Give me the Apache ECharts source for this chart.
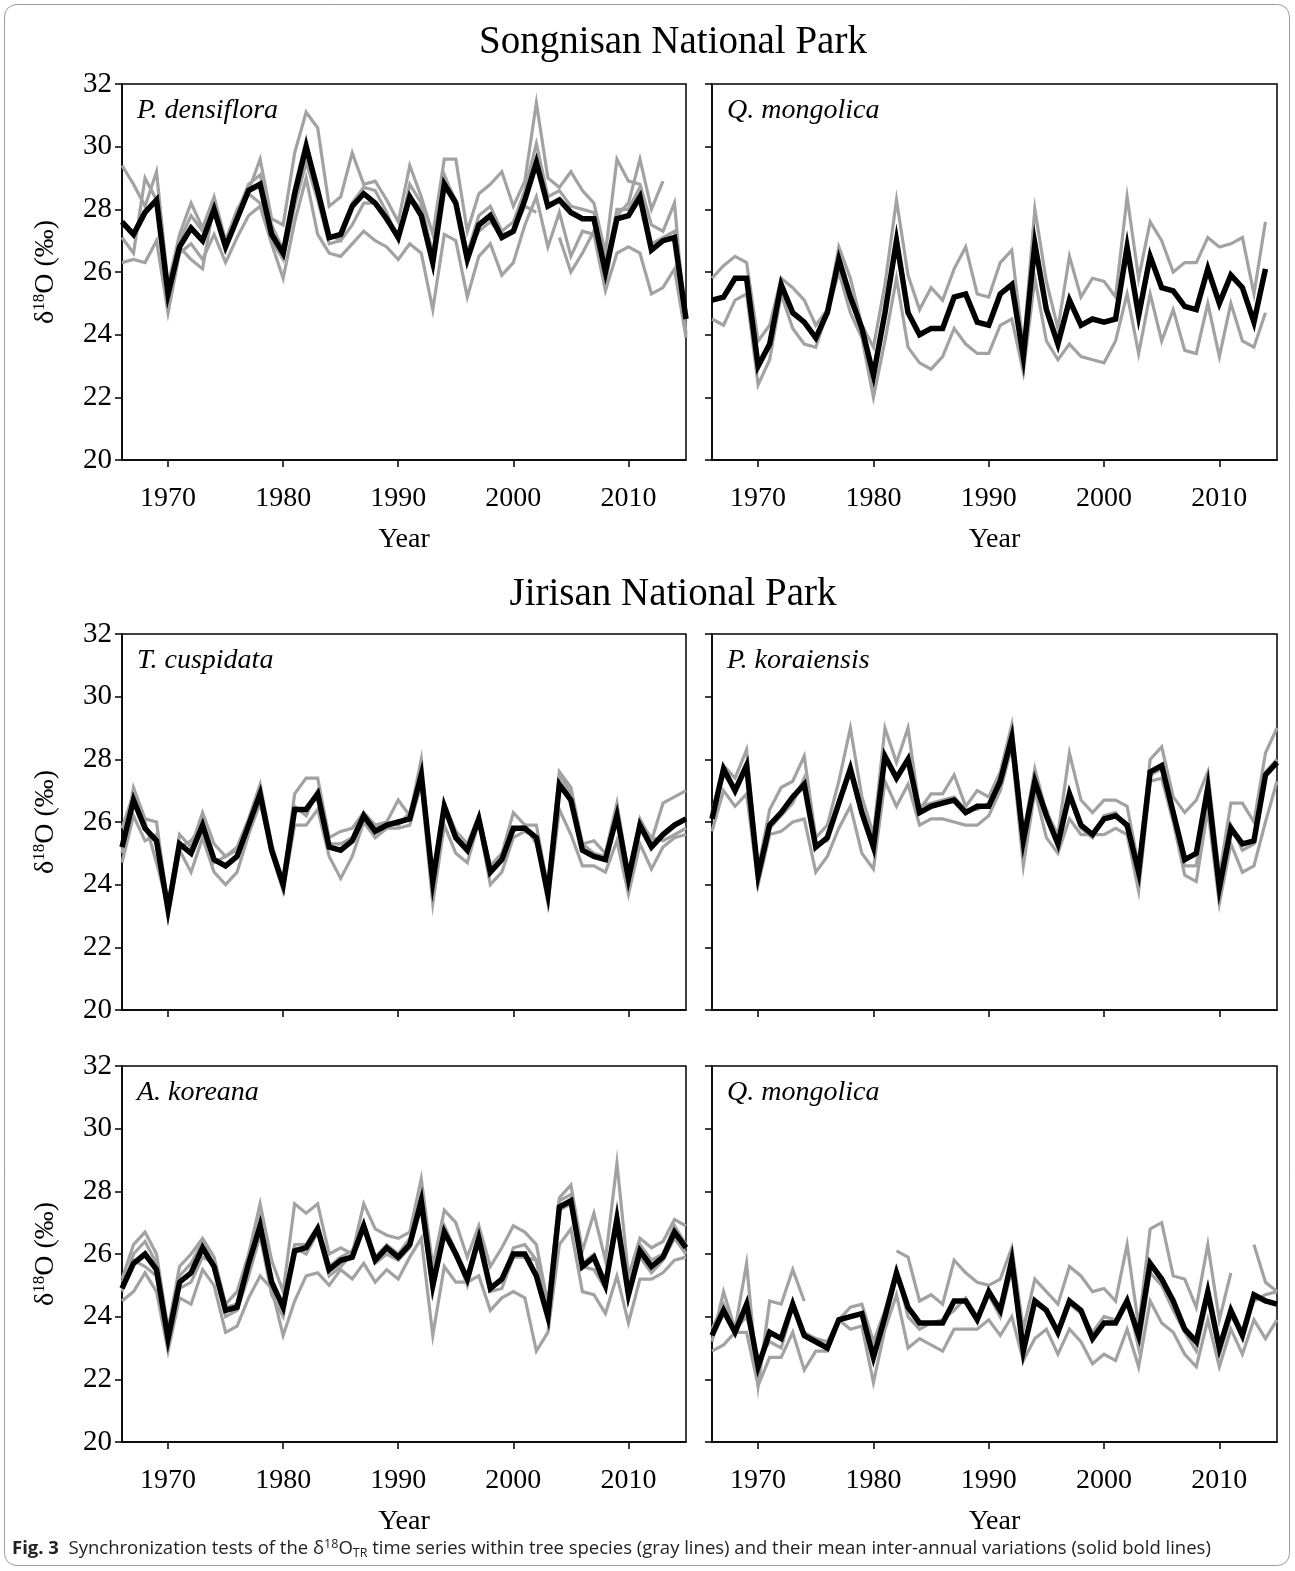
<!DOCTYPE html>
<html><head><meta charset="utf-8">
<script src="https://cdn.jsdelivr.net/npm/echarts@6/dist/echarts.min.js"></script>
<style>html,body{margin:0;padding:0;background:#fff}#c{width:1295px;height:1571px}</style>
</head><body><div id="c"></div>
<script>
// ---------- DATA ----------
const years = [1966,1967,1968,1969,1970,1971,1972,1973,1974,1975,1976,1977,1978,1979,1980,1981,1982,1983,1984,1985,1986,1987,1988,1989,1990,1991,1992,1993,1994,1995,1996,1997,1998,1999,2000,2001,2002,2003,2004,2005,2006,2007,2008,2009,2010,2011,2012,2013,2014,2015];
const xTickYears = [1970,1980,1990,2000,2010];
const yTicks = [20,22,24,26,28,30,32];

// Songnisan - P. densiflora
const tlMean = [27.6,27.2,27.9,28.3,25.3,26.8,27.4,27.0,28.0,26.8, 27.7,28.6,28.8,27.2,26.6,28.5,30.0,28.6,27.1,27.2, 28.1,28.5,28.2,27.7,27.1,28.4,27.8,26.3,28.8,28.2, 26.4,27.5,27.8,27.1,27.3,28.3,29.5,28.1,28.3,27.9, 27.7,27.7,26.0,27.7,27.8,28.4,26.7,27.0,27.1,24.5];
const tlG1 = [29.4,28.8,28.1,29.2,25.6,27.2,28.2,27.4,28.4,27.0, 28.0,28.6,29.6,27.7,27.5,29.8,31.1,30.6,28.1,28.4, 29.8,28.8,28.9,28.3,27.6,29.4,28.4,27.2,29.6,29.6, 27.3,28.5,28.8,29.2,28.1,28.9,31.4,29.0,28.7,29.2, 28.6,28.2,26.6,29.6,28.9,28.8,27.5,27.3,28.2,24.0];
const tlG2 = [26.3,26.4,26.3,27.0,24.7,26.6,26.9,26.4,27.2,26.3, 27.1,27.8,28.1,26.9,25.8,27.6,29.0,27.2,26.6,26.5, 26.9,27.3,27.0,26.8,26.4,26.9,26.6,24.8,27.2,27.0, 25.2,26.5,26.9,25.9,26.3,27.5,28.4,26.8,27.9,26.5, 27.3,27.2,25.4,26.6,26.8,26.6,25.3,25.5,26.1,23.9];
const tlG3 = [27.1,26.6,29.0,28.3,25.2,27.0,27.8,27.3,28.3,26.9, 27.9,28.8,29.1,27.5,26.7,28.7,30.2,28.4,27.2,27.0, 28.2,28.7,28.6,27.9,27.0,28.8,28.2,26.5,29.0,28.3, 26.6,27.8,28.1,27.3,27.6,28.6,30.1,28.4,28.6,28.1, 28.0,27.9,26.2,28.0,28.0,28.7,26.9,27.1,27.3,24.6];
const tlG4Start = 1971;
const tlG4 = [26.8,26.4,26.1,28.2,26.9, 27.8,28.5,28.2,27.0,26.4,28.1,29.5,28.3,26.9,27.0, 27.5,28.2,28.2,27.6,27.2,28.4,28.0,26.6,29.1,28.2, 26.6,27.3,27.6,27.2,27.3,28.1,27.9];
const tlG5Start = 2004;
const tlG5 = [27.1,26.0,26.6,27.3,25.6,27.8,28.2,29.6,28.0,28.9];

// Songnisan - Q. mongolica (1966-2014)
const trMean = [25.1,25.2,25.8,25.8,23.0,23.7,25.6,24.7,24.4,23.9, 24.7,26.4,25.2,24.2,22.7,24.7,27.0,24.7,24.0,24.2, 24.2,25.2,25.3,24.4,24.3,25.3,25.6,23.3,26.9,24.8, 23.7,25.1,24.3,24.5,24.4,24.5,26.8,24.6,26.5,25.5, 25.4,24.9,24.8,26.1,25.0,25.9,25.5,24.4,26.1];
const trG1 = [25.8,26.2,26.5,26.3,23.8,24.3,25.8,25.5,25.1,24.3, 24.8,26.8,25.8,24.3,23.6,25.6,28.3,25.9,24.8,25.5, 25.1,26.1,26.8,25.3,25.2,26.3,26.7,23.6,28.0,25.7, 24.2,26.5,25.2,25.8,25.7,25.2,28.4,25.8,27.6,27.0, 26.0,26.3,26.3,27.1,26.8,26.9,27.1,25.3,27.6];
const trG2 = [24.5,24.3,25.1,25.3,22.4,23.2,25.3,24.2,23.7,23.6, 24.7,26.0,24.7,23.9,22.0,23.8,25.8,23.6,23.1,22.9, 23.3,24.2,23.7,23.4,23.4,24.3,24.5,22.8,25.8,23.8, 23.2,23.7,23.3,23.2,23.1,23.8,25.3,23.4,25.3,23.8, 24.8,23.5,23.4,25.0,23.3,25.0,23.8,23.6,24.7];

// Jirisan - T. cuspidata
const mlMean = [25.2,26.7,25.8,25.4,23.2,25.3,25.0,25.9,24.8,24.6, 24.9,25.9,26.9,25.1,24.0,26.4,26.4,26.9,25.2,25.1, 25.4,26.2,25.7,25.9,26.0,26.1,27.5,24.1,26.5,25.5, 25.1,26.1,24.4,24.8,25.8,25.8,25.5,23.7,27.2,26.7, 25.1,24.9,24.8,26.2,24.2,25.9,25.2,25.6,25.9,26.1];
const mlG1 = [25.0,27.1,26.1,26.0,23.3,25.6,25.2,26.3,25.3,24.9, 25.2,26.1,27.2,25.3,24.1,26.9,27.4,27.4,25.5,25.7, 25.8,26.3,25.9,26.0,26.7,26.2,28.0,24.1,26.5,25.7, 25.3,26.1,24.6,25.0,26.3,25.9,25.9,23.9,27.6,27.1, 25.3,25.4,25.0,26.6,24.3,26.1,25.4,26.6,26.8,27.0];
const mlG2 = [24.7,26.2,25.4,25.6,23.0,25.1,24.4,25.5,24.4,24.0, 24.4,25.6,26.6,25.0,23.8,25.9,25.9,26.4,24.9,24.2, 24.9,26.0,25.5,25.8,25.8,25.9,27.2,23.4,25.9,25.0, 24.7,26.0,24.0,24.4,25.5,25.7,25.5,23.4,26.4,25.6, 24.6,24.6,24.4,25.4,23.7,25.3,24.5,25.2,25.5,25.6];
const mlG3 = [25.8,26.9,26.0,24.7,23.3,25.2,25.4,25.9,24.7,24.9, 25.1,26.0,27.0,25.0,24.1,26.5,26.2,27.0,25.3,25.3, 25.5,26.3,25.8,26.0,25.9,26.3,27.6,24.3,26.6,25.7, 25.3,26.2,24.6,24.9,25.7,25.9,25.3,23.8,27.5,26.9, 25.3,25.0,24.9,26.4,24.4,26.0,25.5,25.4,25.6,25.8];

// Jirisan - P. koraiensis
const mrMean = [26.1,27.7,27.0,27.8,24.3,25.9,26.3,26.8,27.2,25.2, 25.5,26.6,27.7,26.3,25.2,28.1,27.4,28.0,26.3,26.5, 26.6,26.7,26.3,26.5,26.5,27.3,28.7,25.4,27.3,26.2, 25.3,26.9,25.9,25.6,26.1,26.2,25.9,24.4,27.6,27.8, 26.3,24.8,25.0,27.1,23.9,25.8,25.3,25.4,27.5,27.9];
const mrG1 = [26.3,27.8,27.4,28.3,24.5,26.4,27.1,27.3,28.1,25.5, 25.9,27.3,29.0,26.8,25.6,29.0,27.9,29.0,26.4,26.9, 26.9,27.5,26.5,27.0,26.8,27.6,29.1,25.6,27.7,26.3, 25.6,28.2,26.7,26.3,26.7,26.7,26.5,24.6,28.0,28.4, 26.8,26.3,26.7,27.6,24.3,26.6,26.6,26.0,28.2,29.0];
const mrG2 = [25.7,27.0,26.5,26.9,24.0,25.6,25.7,26.0,26.1,24.4, 24.9,25.8,26.5,25.0,24.5,27.3,26.5,27.2,25.9,26.1, 26.1,26.0,25.9,25.9,26.2,27.0,28.4,24.6,27.0,25.5, 25.0,26.1,25.6,25.6,25.6,25.8,25.6,23.8,27.3,27.4, 26.0,24.3,24.1,26.4,23.4,25.3,24.4,24.6,26.0,27.3];
const mrG3 = [26.2,27.5,27.1,27.9,24.4,25.8,26.2,26.6,27.4,25.3, 25.4,26.7,27.6,26.2,25.1,28.0,27.5,27.9,26.5,26.6, 26.7,26.8,26.4,26.4,26.6,27.4,28.6,25.6,27.2,26.4, 25.4,26.8,25.8,25.5,26.2,26.3,25.8,24.5,27.5,27.7, 26.4,24.6,24.6,27.3,23.8,25.9,25.1,25.3,27.6,28.0];

// Jirisan - A. koreana
const blMean = [24.9,25.7,26.0,25.5,23.3,25.1,25.4,26.2,25.6,24.2, 24.3,25.7,26.9,25.1,24.3,26.1,26.2,26.8,25.5,25.8, 25.9,26.9,25.8,26.2,25.9,26.3,27.7,25.0,26.7,26.0, 25.2,26.5,24.9,25.2,26.0,26.0,25.3,24.0,27.5,27.7, 25.6,25.9,25.0,27.1,24.7,26.1,25.6,25.9,26.7,26.2];
const blG1 = [25.2,26.3,26.7,26.0,23.6,25.6,26.0,26.5,25.9,24.4, 24.8,26.0,27.6,25.8,24.8,27.6,27.3,27.6,26.0,26.2, 26.0,27.6,26.8,26.6,26.5,26.7,28.4,25.6,27.4,27.0, 25.9,26.9,25.6,26.2,26.9,26.7,26.3,24.4,27.8,28.2, 26.1,27.3,25.8,28.9,25.3,26.5,26.2,26.4,27.1,26.9];
const blG2 = [24.5,24.8,25.4,24.8,22.9,24.6,24.4,25.5,25.0,23.5, 23.7,24.6,25.3,24.9,23.4,24.5,25.3,25.4,25.0,25.5, 25.2,25.7,25.1,25.5,25.2,25.9,26.5,23.4,25.6,25.1, 25.1,25.3,24.2,24.6,24.8,24.6,22.9,23.5,26.3,26.8, 24.8,24.7,24.1,25.3,23.8,25.2,25.2,25.4,25.8,25.9];
const blG3 = [24.8,26.0,26.4,25.7,23.2,25.3,25.7,26.4,25.6,24.3, 24.4,25.9,27.2,25.2,24.3,26.3,26.3,26.9,25.6,25.9, 26.1,27.0,25.9,26.3,26.0,26.5,27.9,25.2,26.9,26.1, 25.3,26.7,25.0,25.1,26.2,26.3,25.8,24.3,27.7,27.9, 25.7,26.0,25.1,27.4,24.6,26.3,25.8,26.0,26.9,26.3];
const blG4 = [25.1,25.8,25.6,25.3,23.4,24.9,25.1,25.9,25.7,24.0, 24.2,25.3,26.6,24.7,24.0,26.2,26.0,26.7,25.3,25.6, 26.0,26.8,25.7,26.0,25.8,26.2,27.5,24.8,26.6,26.0, 25.0,26.5,24.8,24.9,25.9,25.9,25.8,23.9,27.4,27.6, 25.6,25.5,24.9,27.0,24.6,25.9,25.4,25.8,26.5,26.0];

// Jirisan - Q. mongolica
const brMean = [23.4,24.2,23.5,24.4,22.4,23.5,23.3,24.4,23.4,23.2, 23.0,23.9,24.0,24.1,22.7,24.0,25.4,24.3,23.8,23.8, 23.8,24.5,24.5,23.9,24.8,24.2,25.8,22.9,24.5,24.2, 23.5,24.5,24.2,23.3,23.8,23.8,24.5,23.4,25.7,25.2, 24.5,23.6,23.2,24.8,23.0,24.2,23.4,24.7,24.5,24.4];
const brG1Start = 1966;
const brG1 = [23.2,24.8,23.6,25.7,21.8,24.5,24.4,25.5,24.5];
const brG2Start = 1982;
const brG2 = [26.1,25.9,24.5,24.7,24.4,25.8,25.4,25.1,25.0,25.2, 26.2,23.6,25.2,24.8,24.4,25.6,25.3,24.8,24.9,24.5, 26.3,23.7,26.8,27.0,25.3,25.2,24.3,26.3,23.9,25.4];
const brG3 = [22.9,23.1,23.5,23.5,21.8,22.7,22.7,23.5,22.3,22.9, 22.9,23.9,23.6,23.7,21.9,23.6,24.7,23.0,23.3,23.1, 22.9,23.6,23.6,23.6,23.9,23.4,24.0,22.6,23.3,23.6, 22.8,23.6,23.2,22.5,22.8,22.6,23.6,22.4,24.5,23.8, 23.5,22.8,22.4,23.9,22.4,23.6,22.8,23.9,23.3,23.9];
const brG4 = [23.6,24.4,23.6,24.0,22.6,23.2,23.0,24.3,23.5,23.3, 23.2,23.9,24.3,24.4,23.2,24.2,25.5,24.0,23.6,23.8, 23.9,24.2,24.6,24.0,24.7,24.0,25.5,22.8,24.4,24.2, 23.4,24.4,24.1,23.5,24.0,23.9,24.6,23.0,25.4,25.0, 24.2,23.5,22.9,24.6,22.8,24.0,23.5,24.5,24.7,24.8];
const brG5Start = 2013;
const brG5 = [26.3,25.1,24.8];

// ---------- BUILD ----------
function pairs(vals, start) {
  const s = start || years[0];
  return vals.map((v, i) => [s + i, v == null ? '-' : v]);
}
const SERIF = '"Liberation Serif", "Times New Roman", serif';
const SANS = '"Open Sans", "Noto Sans", sans-serif';
const panels = [
  {g:{left:122, top:84, width:564, height:376}, label:'P. densiflora', mean:tlMean,
   grays:[[tlG1],[tlG2],[tlG3],[tlG4,tlG4Start],[tlG5,tlG5Start]], yl:true, xl:true},
  {g:{left:712, top:84, width:565, height:376}, label:'Q. mongolica', mean:trMean,
   grays:[[trG1],[trG2]], yl:false, xl:true},
  {g:{left:122, top:634, width:564, height:376}, label:'T. cuspidata', mean:mlMean,
   grays:[[mlG1],[mlG2],[mlG3]], yl:true, xl:false},
  {g:{left:712, top:634, width:565, height:376}, label:'P. koraiensis', mean:mrMean,
   grays:[[mrG1],[mrG2],[mrG3]], yl:false, xl:false},
  {g:{left:122, top:1066, width:564, height:376}, label:'A. koreana', mean:blMean,
   grays:[[blG1],[blG2],[blG3],[blG4]], yl:true, xl:true},
  {g:{left:712, top:1066, width:565, height:376}, label:'Q. mongolica', mean:brMean,
   grays:[[brG1,brG1Start],[brG2,brG2Start],[brG3],[brG4],[brG5,brG5Start]], yl:false, xl:true}
];

const grid = [], xAxis = [], yAxis = [], series = [], graphic = [];
panels.forEach((p, i) => {
  grid.push(Object.assign({show:true, borderColor:'#000', borderWidth:1.5, backgroundColor:'transparent'}, p.g));
  xAxis.push({
    type:'value', gridIndex:i, min:years[0], max:years[years.length-1],
    axisLine:{show:true, lineStyle:{color:'#000', width:1.5}},
    axisTick:{show:true, inside:false, length:7, customValues:xTickYears, lineStyle:{color:'#000', width:1.5}},
    axisLabel:{show:p.xl, customValues:xTickYears, formatter:v => String(v), color:'#000', fontFamily:SERIF, fontSize:28, margin:25},
    splitLine:{show:false},
    name: p.xl ? 'Year' : '', nameLocation:'middle', nameGap:66,
    nameTextStyle:{color:'#000', fontFamily:SERIF, fontSize:28}
  });
  yAxis.push({
    type:'value', gridIndex:i, min:20, max:32, interval:2,
    axisLine:{show:true, lineStyle:{color:'#000', width:1.5}},
    axisTick:{show:true, inside:false, length:7, lineStyle:{color:'#000', width:1.5}},
    axisLabel:{show:p.yl, color:'#000', fontFamily:SERIF, fontSize:29, margin:10},
    splitLine:{show:false},
    name: p.yl ? '{d|δ}{s|18}{d|O (‰)}' : '', nameLocation:'middle', nameGap:62, nameRotate:90,
    nameTextStyle:{color:'#000', fontFamily:SERIF, fontSize:28,
      rich:{d:{fontFamily:SERIF, fontSize:28, color:'#000'},
            s:{fontFamily:SERIF, fontSize:17, color:'#000', verticalAlign:'bottom', padding:[0,0,12,0]}}}
  });
  p.grays.forEach(gArr => {
    series.push({type:'line', xAxisIndex:i, yAxisIndex:i, data:pairs(gArr[0], gArr[1]),
      showSymbol:false, symbol:'none', connectNulls:false, silent:true, z:2,
      lineStyle:{color:'#a2a2a2', width:3.2, join:'miter'}});
  });
  series.push({type:'line', xAxisIndex:i, yAxisIndex:i, data:pairs(p.mean),
    showSymbol:false, symbol:'none', silent:true, z:3,
    lineStyle:{color:'#000', width:5.5, join:'miter'}});
  graphic.push({type:'text', x:p.g.left + 15, y:p.g.top + 27, z:10,
    style:{text:p.label, fontFamily:SERIF, fontStyle:'italic', fontSize:28, fill:'#000', verticalAlign:'middle'}});
});

graphic.push({type:'text', x:673, y:43, style:{text:'Songnisan National Park', fontFamily:SERIF, fontSize:39, fill:'#000', align:'center', verticalAlign:'middle'}});
graphic.push({type:'text', x:673, y:595, style:{text:'Jirisan National Park', fontFamily:SERIF, fontSize:39, fill:'#000', align:'center', verticalAlign:'middle'}});
graphic.push({type:'rect', z:-1, shape:{x:4.5, y:4.5, width:1285, height:1561, r:12}, style:{fill:'none', stroke:'#9c9c9c', lineWidth:1}});
graphic.push({type:'text', x:12, y:1549, style:{
  text:'{b|Fig. 3}  Synchronization tests of the δ{sup|18}O{sub|TR} time series within tree species (gray lines) and their mean inter-annual variations (solid bold lines)',
  fontFamily:SANS, fontSize:18.5, fill:'#222', verticalAlign:'middle',
  rich:{
    b:{fontFamily:SANS, fontWeight:'bold', fontSize:18.5, fill:'#222'},
    sup:{fontFamily:SANS, fontSize:12.5, fill:'#222', verticalAlign:'bottom', padding:[0,0,9,0]},
    sub:{fontFamily:SANS, fontSize:12.5, fill:'#222', verticalAlign:'top', padding:[9,0,0,0]}
  }}});

const chart = echarts.init(document.getElementById('c'), null, {renderer:'canvas'});
chart.setOption({animation:false, backgroundColor:'#fff', grid, xAxis, yAxis, series, graphic});
</script></body></html>
